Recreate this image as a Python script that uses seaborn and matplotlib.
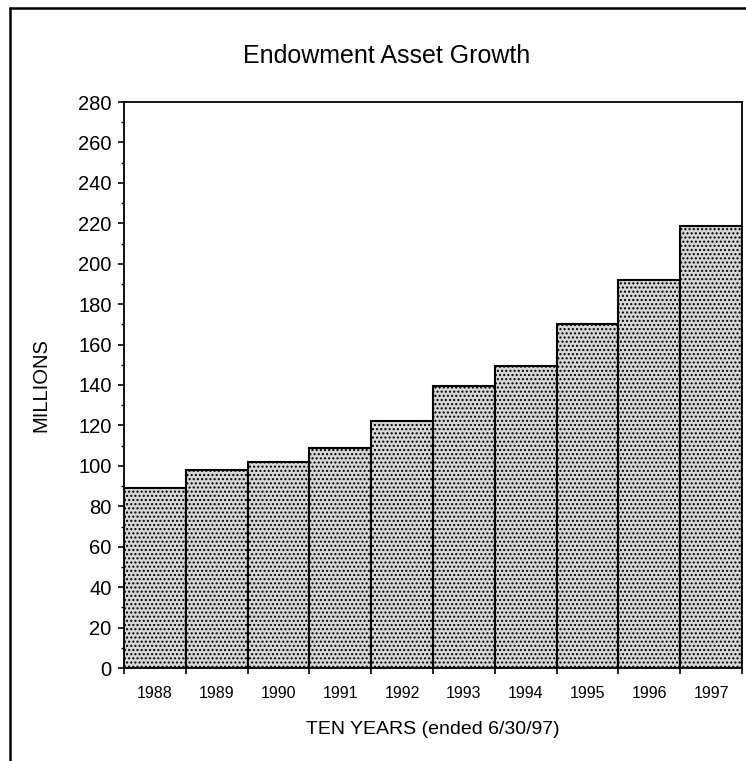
import matplotlib
matplotlib.use("Agg")
import matplotlib.pyplot as plt
from matplotlib.lines import Line2D
from matplotlib.ticker import MultipleLocator, FixedLocator, NullFormatter
import seaborn as sns
import pandas as pd

years = ["1988", "1989", "1990", "1991", "1992", "1993", "1994", "1995", "1996", "1997"]
assets = [89, 98, 102, 109, 122, 139.5, 149.5, 170, 192, 218.5]

sns.set_theme(style="white")
plt.rcParams["font.family"] = ["Liberation Sans", "DejaVu Sans"]
plt.rcParams["text.color"] = "black"
plt.rcParams["axes.labelcolor"] = "black"
plt.rcParams["xtick.color"] = "black"
plt.rcParams["ytick.color"] = "black"
plt.rcParams["hatch.color"] = "#303030"
plt.rcParams["hatch.linewidth"] = 1.0

df = pd.DataFrame({"year": years, "millions": assets})

fig = plt.figure(figsize=(7.46, 7.61), dpi=100)
ax = fig.add_axes([124 / 746, 1 - 668 / 761, 618 / 746, 566 / 761])

sns.barplot(data=df, x="year", y="millions", width=1.0, color="#d6d6d6",
            edgecolor="black", linewidth=1.5, saturation=1, ax=ax)
for p in ax.patches:
    p.set_hatch("....")

ax.set_xlim(-0.5, len(years) - 0.5)
ax.set_ylim(0, 280)

# y axis: labelled every 20, minor marks every 10
ax.yaxis.set_major_locator(MultipleLocator(20))
ax.yaxis.set_minor_locator(MultipleLocator(10))
ax.tick_params(axis="y", which="major", direction="out", length=4, width=1.2,
               labelsize=14.5, pad=5, left=True)
ax.tick_params(axis="y", which="minor", direction="out", length=2.5, width=1.0,
               left=True)

# x axis: ticks at bar boundaries, labels centred under bars
bounds = [i - 0.5 for i in range(len(years) + 1)]
ax.xaxis.set_major_locator(FixedLocator(bounds))
ax.xaxis.set_major_formatter(NullFormatter())
ax.xaxis.set_minor_locator(FixedLocator(list(range(len(years)))))
ax.set_xticklabels(years, minor=True)
ax.tick_params(axis="x", which="major", direction="out", length=4, width=1.2,
               bottom=True)
ax.tick_params(axis="x", which="minor", length=0, labelsize=11.5, pad=13)

for s in ax.spines.values():
    s.set_color("black")
    s.set_linewidth(1.3)

ax.set_xlabel("TEN YEARS (ended 6/30/97)", fontsize=14, labelpad=14)
ax.set_ylabel("MILLIONS", fontsize=14.5, labelpad=20)
fig.text(0.5176, 1 - 56 / 761, "Endowment Asset Growth", ha="center",
         va="center", fontsize=18)

# outer frame
fig.add_artist(Line2D([10 / 746, 10 / 746], [0, 1 - 8 / 761],
                      transform=fig.transFigure, color="black", lw=1.8))
fig.add_artist(Line2D([10 / 746, 1], [1 - 8 / 761, 1 - 8 / 761],
                      transform=fig.transFigure, color="black", lw=1.8))

fig.savefig("out.png", dpi=100)
